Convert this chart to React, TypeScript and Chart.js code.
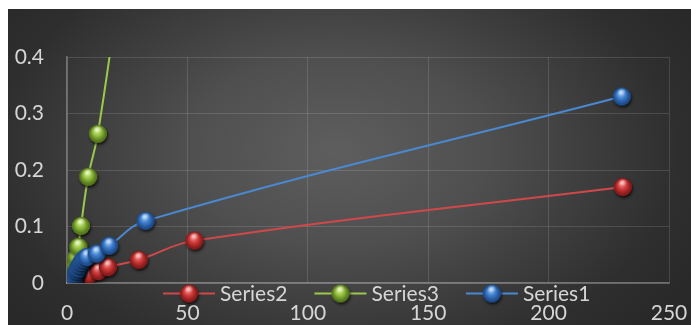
import React, { useEffect, useRef } from "react";
import { Chart, registerables } from "chart.js";

Chart.register(...registerables);

const series1X = [2.2, 2.6, 3.0, 3.6, 4.2, 4.7, 5.4, 6.1, 7.0, 8.2, 12.3, 17.5, 32.6, 230.4];
const series1Y = [0.0, 0.003, 0.008, 0.017, 0.022, 0.026, 0.032, 0.037, 0.042, 0.046, 0.052, 0.066, 0.11, 0.33];

const series2X = [2.0, 2.6, 3.5, 4.5, 6.0, 8.9, 13.0, 17.0, 29.8, 52.9, 230.8];
const series2Y = [0.0, 0.002, 0.004, 0.007, 0.01, 0.014, 0.021, 0.028, 0.041, 0.075, 0.17];

const series3X = [1.8, 2.2, 2.6, 3.2, 3.8, 4.7, 5.8, 8.8, 12.8, 22.0];
const series3Y = [0.002, 0.01, 0.02, 0.032, 0.045, 0.064, 0.101, 0.188, 0.264, 0.53];

const xTicksMax = 250;
const xStep = 50;
const yTicksMax = 0.4;
const yStep = 0.1;

const legendOrder = ["Series2", "Series3", "Series1"];

const FONT = "Lato, 'Open Sans', sans-serif";
const TEXT = "#d6d6d6";

function makeBall(base: string, light: string, dark: string, r = 9) {
  const size = 2 * r + 10;
  const c = document.createElement("canvas");
  c.width = size;
  c.height = size;
  const g = c.getContext("2d")!;
  const cx = size / 2;
  const cy = size / 2;
  g.save();
  g.shadowColor = "rgba(0,0,0,0.75)";
  g.shadowBlur = 3;
  g.shadowOffsetX = 1;
  g.shadowOffsetY = 2;
  g.beginPath();
  g.arc(cx, cy, r, 0, Math.PI * 2);
  g.fillStyle = dark;
  g.fill();
  g.restore();
  const grad = g.createRadialGradient(cx - r * 0.15, cy - r * 0.45, r * 0.05, cx, cy, r);
  grad.addColorStop(0, light);
  grad.addColorStop(0.45, base);
  grad.addColorStop(0.85, dark);
  grad.addColorStop(1, dark);
  g.beginPath();
  g.arc(cx, cy, r, 0, Math.PI * 2);
  g.fillStyle = grad;
  g.fill();
  const hg = g.createRadialGradient(cx, cy - r * 0.55, 0, cx, cy - r * 0.55, r * 0.5);
  hg.addColorStop(0, "rgba(255,255,255,0.55)");
  hg.addColorStop(1, "rgba(255,255,255,0)");
  g.beginPath();
  g.ellipse(cx, cy - r * 0.5, r * 0.55, r * 0.35, 0, 0, Math.PI * 2);
  g.fillStyle = hg;
  g.fill();
  return c;
}

export default function App() {
  const ref = useRef<HTMLCanvasElement>(null);

  useEffect(() => {
    const canvas = ref.current!;
    const blueBall = makeBall("#3f7fcf", "#a9d0f5", "#1f4e8e");
    const redBall = makeBall("#d23c3c", "#f7a3a3", "#8c1c1c");
    const greenBall = makeBall("#92c03e", "#e0f5a8", "#587a1e");

    const colors: Record<string, { line: string; ball: HTMLCanvasElement }> = {
      Series1: { line: "#4a88d2", ball: blueBall },
      Series2: { line: "#d0484a", ball: redBall },
      Series3: { line: "#9cc94a", ball: greenBall },
    };

    const bgPlugin = {
      id: "bg",
      beforeDraw(chart: any) {
        const ctx = chart.ctx;
        const w = chart.width;
        const h = chart.height;
        ctx.save();
        ctx.fillStyle = "#282828";
        ctx.fillRect(0, 0, w, h);
        const cx = w * 0.48;
        const cy = h * 0.45;
        const rx = 430;
        const ry = 270;
        ctx.translate(cx, cy);
        ctx.scale(1, ry / rx);
        const g = ctx.createRadialGradient(0, 0, 0, 0, 0, rx);
        g.addColorStop(0, "#5e5e5e");
        g.addColorStop(0.35, "#4f4f4f");
        g.addColorStop(0.8, "#2e2e2e");
        g.addColorStop(1, "#282828");
        ctx.fillStyle = g;
        ctx.fillRect(-rx * 2, -rx * 2, rx * 4, rx * 4);
        ctx.restore();
      },
    };

    const legendPlugin = {
      id: "customLegend",
      afterDraw(chart: any) {
        const ctx = chart.ctx;
        const y = chart.chartArea.bottom + 10.5;
        let x = 155;
        ctx.save();
        ctx.font = `21px ${FONT}`;
        ctx.textBaseline = "middle";
        ctx.textAlign = "left";
        legendOrder.forEach((name) => {
          const c = colors[name];
          ctx.strokeStyle = c.line;
          ctx.lineWidth = 2;
          ctx.beginPath();
          ctx.moveTo(x, y);
          ctx.lineTo(x + 52, y);
          ctx.stroke();
          ctx.drawImage(c.ball, x + 26 - c.ball.width / 2, y - c.ball.height / 2);
          ctx.fillStyle = TEXT;
          ctx.fillText(name, x + 57, y + 1);
          x += 57 + ctx.measureText(name).width + 27;
        });
        ctx.restore();
      },
    };

    const mk = (name: string, xs: number[], ys: number[]) => ({
      label: name,
      data: xs.map((v, i) => ({ x: v, y: ys[i] })),
      borderColor: colors[name].line,
      borderWidth: 2,
      pointStyle: colors[name].ball,
      pointRadius: 9,
      tension: 0.4,
      showLine: true,
      fill: false,
    });

    const chart = new Chart(canvas, {
      type: "scatter",
      data: {
        datasets: [
          mk("Series1", series1X, series1Y),
          mk("Series3", series3X, series3Y),
          mk("Series2", series2X, series2Y),
        ],
      },
      options: {
        animation: false,
        responsive: false,
        layout: { padding: { top: 48, right: 22, left: 0, bottom: 0 } },
        plugins: { legend: { display: false }, tooltip: { enabled: false } },
        scales: {
          x: {
            type: "linear",
            min: 0,
            max: xTicksMax,
            ticks: {
              stepSize: xStep,
              color: TEXT,
              font: { family: FONT, size: 21 },
              padding: 18,
              maxRotation: 0,
            },
            grid: { color: "rgba(255,255,255,0.13)", drawTicks: false, lineWidth: 1 },
            border: { color: "rgba(255,255,255,0.32)", width: 1.5 },
            afterFit: (s: any) => {
              s.height = 42;
              s.paddingLeft = 0;
              s.paddingRight = 0;
            },
          },
          y: {
            type: "linear",
            min: 0,
            max: yTicksMax,
            ticks: {
              stepSize: yStep,
              color: TEXT,
              font: { family: FONT, size: 21 },
              padding: 23,
            },
            grid: { color: "rgba(255,255,255,0.13)", drawTicks: false, lineWidth: 1 },
            border: { color: "rgba(255,255,255,0.3)", width: 1.5 },
            afterFit: (s: any) => {
              s.width = 59;
            },
          },
        },
      },
      plugins: [bgPlugin, legendPlugin],
    } as any);
    return () => chart.destroy();
  }, []);

  return (
    <canvas
      ref={ref}
      width={683}
      height={316}
      style={{ position: "fixed", left: 8, top: 9, width: 683, height: 316 }}
    />
  );
}
